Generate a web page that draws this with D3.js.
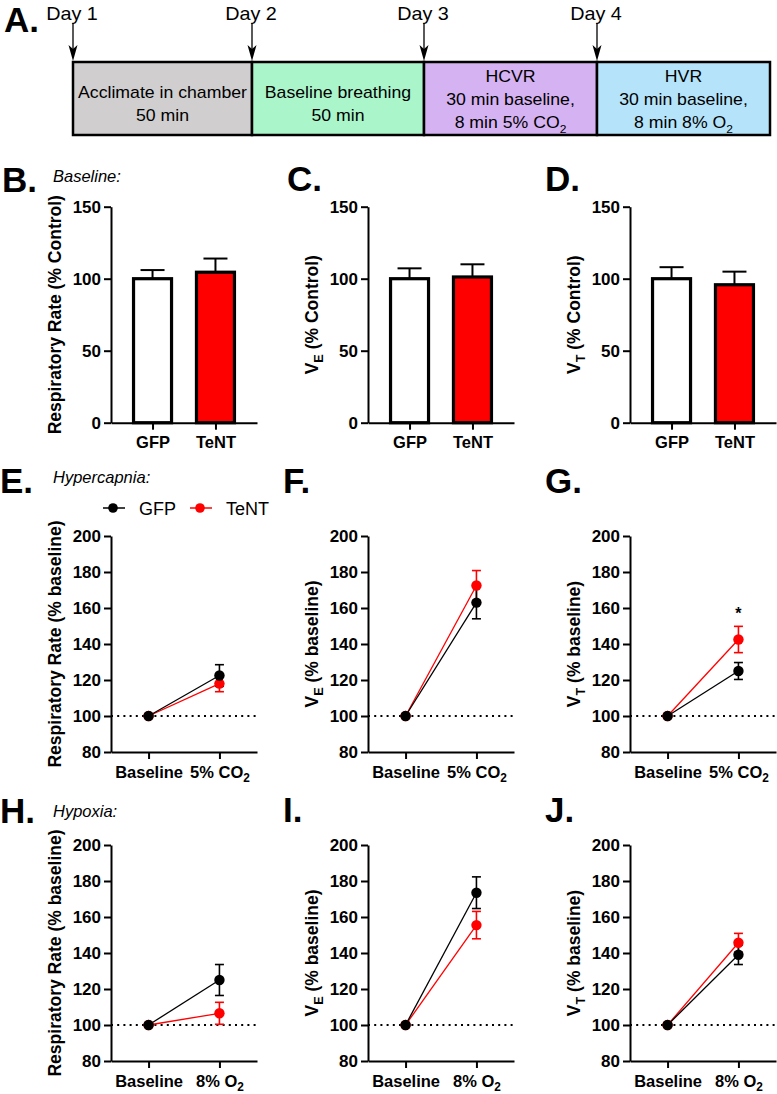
<!DOCTYPE html>
<html><head><meta charset="utf-8">
<script src="https://cdn.jsdelivr.net/npm/d3@7"></script>
<style>body{margin:0;background:#fff} text{font-family:"Liberation Sans",Arial,Helvetica,sans-serif}</style>
</head><body><svg id="c" width="777" height="1094"></svg>
<script>
// ---------- DATA ----------
const days = ["Day 1", "Day 2", "Day 3", "Day 4"];
const stageLines = [
  [[["Acclimate in chamber", ""]], [["50 min", ""]]],
  [[["Baseline breathing", ""]], [["50 min", ""]]],
  [[["HCVR", ""]], [["30 min baseline,", ""]], [["8 min 5% CO", ""], ["2", "sub"]]],
  [[["HVR", ""]], [["30 min baseline,", ""]], [["8 min 8% O", ""], ["2", "sub"]]]
];
const stageColors = ["#d0cece", "#aaf5c9", "#d5b2f1", "#b5e4fa"];

const groups = ["GFP", "TeNT"];
const groupColors = ["#000000", "#ff0000"];
const barFills = ["#ffffff", "#ff0000"];
const barTicks = [0, 50, 100, 150];
const lineTicks = [80, 100, 120, 140, 160, 180, 200];

// Baseline bar panels (mean, SEM) per group
const rrBaseMean = [100, 104.5], rrBaseSem = [6, 9.5];
const veBaseMean = [100, 101.2], veBaseSem = [7.2, 8.8];
const vtBaseMean = [100, 95.8], vtBaseSem = [8, 9.1];

// Conditions
const hyperConds = ["Baseline", "5% CO2"];
const hypoxConds = ["Baseline", "8% O2"];

// Hypercapnia (% baseline)
const eGFP = [100, 122.5], eGFPsem = [0, 6.0], eTeNT = [100, 118.0], eTeNTsem = [0, 4.5];
const fGFP = [100, 163.0], fGFPsem = [0, 9.0], fTeNT = [100, 172.5], fTeNTsem = [0, 8.3];
const gGFP = [100, 125.0], gGFPsem = [0, 4.7], gTeNT = [100, 142.5], gTeNTsem = [0, 7.3];
// Hypoxia (% baseline)
const hGFP = [100, 125.0], hGFPsem = [0, 8.6], hTeNT = [100, 106.5], hTeNTsem = [0, 6.1];
const iGFP = [100, 173.5], iGFPsem = [0, 8.8], iTeNT = [100, 155.5], iTeNTsem = [0, 7.6];
const jGFP = [100, 139.0], jGFPsem = [0, 5.4], jTeNT = [100, 145.7], jTeNTsem = [0, 5.2];

const gStarY = 158; // position of "*" in panel G (value units)

// ---------- LAYOUT ----------
const svg = d3.select("#c");
const FONT = '"Liberation Sans",Arial,Helvetica,sans-serif';
const colX = [111, 368, 630];
const axW = 146;

// rich text: segments [text, "sub"|""]
function rich(sel, segs, size, subScale) {
  let prevSub = false;
  segs.forEach(([t, kind]) => {
    const ts = sel.append("tspan").text(t);
    if (kind === "sub") {
      ts.attr("font-size", size * (subScale || 0.72)).attr("dy", size * 0.28);
      prevSub = true;
    } else if (prevSub) {
      ts.attr("dy", -size * 0.28);
      prevSub = false;
    }
  });
}

function letter(t, x, y) {
  svg.append("text").attr("x", x).attr("y", y).attr("font-size", 35).attr("font-weight", "bold").text(t);
}
function italic(t, x, y) {
  svg.append("text").attr("x", x).attr("y", y).attr("font-size", 16.5).attr("font-style", "italic").text(t);
}

// ---------- PANEL A ----------
const tl = d3.scaleLinear().domain([0, 1, 2, 3, 4]).range([73, 252, 424, 597, 770]);
const boxTop = 62, boxBot = 135;
const gA = svg.append("g");
stageLines.forEach((lines, i) => {
  gA.append("rect").attr("x", tl(i)).attr("y", boxTop).attr("width", tl(i + 1) - tl(i)).attr("height", boxBot - boxTop)
    .attr("fill", stageColors[i]).attr("stroke", "#000").attr("stroke-width", 2.5);
  const cx = (tl(i) + tl(i + 1)) / 2;
  const n = lines.length;
  const mid = n === 2 ? 103 : 99;
  lines.forEach((segs, k) => {
    const y = mid + (k - (n - 1) / 2) * 23 + 6;
    const t = gA.append("text").attr("text-anchor", "middle").attr("font-size", 17)
      .attr("transform", `translate(${cx},${y}) scale(1.04,1)`);
    rich(t, segs, 17, 0.68);
  });
});
days.forEach((d, i) => {
  const x = tl(i);
  gA.append("text").attr("text-anchor", "middle").attr("font-size", 18)
    .attr("transform", `translate(${x - 1},20) scale(1.1,1)`).text(d);
  gA.append("line").attr("x1", x).attr("x2", x).attr("y1", 23).attr("y2", 52).attr("stroke", "#000").attr("stroke-width", 1.3);
  gA.append("path").attr("d", `M${x - 4.5},45 L${x},61 L${x + 4.5},45 L${x},49 Z`).attr("fill", "#000");
});
letter("A.", 4, 32);

// ---------- axis helpers ----------
function styleAxis(g, fs) {
  g.attr("font-size", fs).attr("font-family", FONT);
  g.selectAll("path.domain").attr("stroke", "#000").attr("stroke-width", 2);
  g.selectAll(".tick line").attr("stroke", "#000").attr("stroke-width", 2);
  g.selectAll(".tick text").attr("font-size", fs).attr("font-weight", "bold").attr("fill", "#000");
}
function yTitle(x0, yTop, yBot, segs) {
  const t = svg.append("text").attr("text-anchor", "middle").attr("font-size", 17.5).attr("font-weight", "bold")
    .attr("transform", `translate(${x0 - 50},${(yTop + yBot) / 2}) rotate(-90)`);
  rich(t, segs, 17.5, 0.72);
}

// ---------- BAR PANELS ----------
function barPanel(ci, means, sems, titleSegs) {
  const x0 = colX[ci], yTop = 206.7, yBot = 422.7;
  const y = d3.scaleLinear().domain([0, 150]).range([yBot, yTop]);
  const x = d3.scalePoint().domain(groups).range([x0, x0 + axW]).padding(0.66);
  const bw = 38;
  const g = svg.append("g");
  groups.forEach((gr, i) => {
    g.append("line").attr("x1", x(gr)).attr("x2", x(gr)).attr("y1", y(means[i])).attr("y2", y(means[i] + sems[i]))
      .attr("stroke", "#000").attr("stroke-width", 2);
    g.append("line").attr("x1", x(gr) - 12).attr("x2", x(gr) + 12).attr("y1", y(means[i] + sems[i])).attr("y2", y(means[i] + sems[i]))
      .attr("stroke", "#000").attr("stroke-width", 2);
  });
  g.selectAll("rect.bar").data(groups).join("rect").attr("class", "bar")
    .attr("x", d => x(d) - bw / 2).attr("width", bw)
    .attr("y", (d, i) => y(means[i])).attr("height", (d, i) => yBot - y(means[i]))
    .attr("fill", (d, i) => barFills[i]).attr("stroke", "#000").attr("stroke-width", 3.2);
  const ya = svg.append("g").attr("transform", `translate(${x0},0)`)
    .call(d3.axisLeft(y).tickValues(barTicks).tickSize(7).tickSizeOuter(0).tickPadding(3));
  styleAxis(ya, 17);
  const xa = svg.append("g").attr("transform", `translate(0,${yBot})`)
    .call(d3.axisBottom(x).tickSize(7).tickSizeOuter(0).tickPadding(7));
  styleAxis(xa, 16.5);
  yTitle(x0, yTop, yBot, titleSegs);
}

// ---------- LINE PANELS ----------
function linePanel(ci, yTop, yBot, conds, gm, gs, tm, ts, titleSegs) {
  const x0 = colX[ci];
  const y = d3.scaleLinear().domain([80, 200]).range([yBot, yTop]);
  const x = d3.scalePoint().domain(conds).range([x0, x0 + axW]).padding(0.53);
  const g = svg.append("g");
  g.append("line").attr("x1", x0).attr("x2", x0 + axW).attr("y1", y(100)).attr("y2", y(100))
    .attr("stroke", "#000").attr("stroke-width", 2).attr("stroke-dasharray", "2,4.2");
  const series = [[gm, gs, groupColors[0]], [tm, ts, groupColors[1]]];
  const line = d3.line().x((d, i) => x(conds[i])).y(d => y(d));
  [series[1], series[0]].forEach(([m, s, c]) => {
    g.append("path").attr("d", line(m)).attr("fill", "none").attr("stroke", c).attr("stroke-width", 1.3);
  });
  [series[1], series[0]].forEach(([m, s, c]) => {
    m.forEach((v, i) => {
      if (s[i] > 0) {
        const cx = x(conds[i]);
        g.append("line").attr("x1", cx).attr("x2", cx).attr("y1", y(v - s[i])).attr("y2", y(v + s[i])).attr("stroke", c).attr("stroke-width", 1.6);
        [v - s[i], v + s[i]].forEach(e => g.append("line").attr("x1", cx - 4.5).attr("x2", cx + 4.5).attr("y1", y(e)).attr("y2", y(e)).attr("stroke", c).attr("stroke-width", 1.6));
      }
    });
  });
  [series[1], series[0]].forEach(([m, s, c]) => {
    g.selectAll(null).data(m).join("circle").attr("cx", (d, i) => x(conds[i])).attr("cy", d => y(d)).attr("r", 5.2).attr("fill", c);
  });
  const ya = svg.append("g").attr("transform", `translate(${x0},0)`)
    .call(d3.axisLeft(y).tickValues(lineTicks).tickSize(7).tickSizeOuter(0).tickPadding(3));
  styleAxis(ya, 17);
  const xa = svg.append("g").attr("transform", `translate(0,${yBot})`)
    .call(d3.axisBottom(x).tickSize(7).tickSizeOuter(0).tickPadding(7));
  styleAxis(xa, 16.5);
  xa.selectAll(".tick text").each(function (d) {
    const t = d3.select(this);
    const m = d.match(/^(.*O)2$/);
    if (m) { t.text(""); rich(t, [[m[1], ""], ["2", "sub"]], 16.5, 0.72); }
  });
  yTitle(x0, yTop, yBot, titleSegs);
  return { x, y };
}

const VE = (w) => [["V", ""], ["E", "sub"], [` (% ${w})`, ""]];
const VT = (w) => [["V", ""], ["T", "sub"], [` (% ${w})`, ""]];
const RR = (w) => [[`Respiratory Rate (% ${w})`, ""]];

letter("B.", 2, 192); italic("Baseline:", 53, 182);
letter("C.", 287, 191);
letter("D.", 545, 191);
barPanel(0, rrBaseMean, rrBaseSem, RR("Control"));
barPanel(1, veBaseMean, veBaseSem, VE("Control"));
barPanel(2, vtBaseMean, vtBaseSem, VT("Control"));

const r2t = 536, r2b = 752, r3t = 845, r3b = 1061;
letter("E.", 0, 493); italic("Hypercapnia:", 53, 483);
letter("F.", 283, 493);
letter("G.", 545, 493);
linePanel(0, r2t, r2b, hyperConds, eGFP, eGFPsem, eTeNT, eTeNTsem, RR("baseline"));
linePanel(1, r2t, r2b, hyperConds, fGFP, fGFPsem, fTeNT, fTeNTsem, VE("baseline"));
const pG = linePanel(2, r2t, r2b, hyperConds, gGFP, gGFPsem, gTeNT, gTeNTsem, VT("baseline"));
svg.append("text").attr("x", pG.x(hyperConds[1])).attr("y", pG.y(gStarY) + 7).attr("text-anchor", "middle")
  .attr("font-size", 16).attr("font-weight", "bold").text("*");

letter("H.", 0, 823); italic("Hypoxia:", 53, 817);
letter("I.", 283, 822);
letter("J.", 545, 822);
linePanel(0, r3t, r3b, hypoxConds, hGFP, hGFPsem, hTeNT, hTeNTsem, RR("baseline"));
linePanel(1, r3t, r3b, hypoxConds, iGFP, iGFPsem, iTeNT, iTeNTsem, VE("baseline"));
linePanel(2, r3t, r3b, hypoxConds, jGFP, jGFPsem, jTeNT, jTeNTsem, VT("baseline"));

// legend
const legX = [113, 200];
groups.forEach((gr, i) => {
  const lx = legX[i], ly = 508;
  svg.append("line").attr("x1", lx - 10).attr("x2", lx + 12).attr("y1", ly).attr("y2", ly).attr("stroke", groupColors[i]).attr("stroke-width", 1.5);
  svg.append("circle").attr("cx", lx).attr("cy", ly).attr("r", 4.8).attr("fill", groupColors[i]);
  svg.append("text").attr("x", lx + 26).attr("y", ly + 6.5).attr("font-size", 18).text(gr);
});
</script></body></html>
